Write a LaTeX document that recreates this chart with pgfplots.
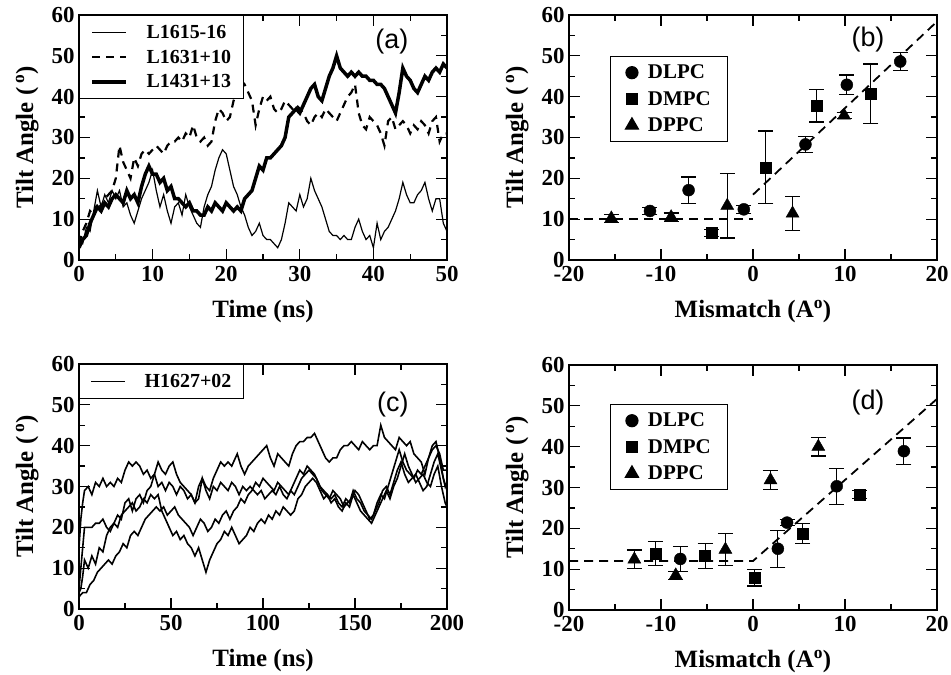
\documentclass[border=0pt]{standalone}
\usepackage{fontspec}
\setmainfont{Liberation Serif}
\newfontfamily\sansf{Liberation Sans}
\usepackage{pgfplots}
\pgfplotsset{compat=1.18}
\pgfplotsset{
 panel/.style={
  scale only axis, width=368bp, height=245bp,
  axis line style={line width=1.5bp},
  tick style={black, line width=1.3bp},
  major tick length=11bp, minor tick length=6bp,
  tick align=inside,
  ticklabel style={font=\fontsize{23}{23}\selectfont\bfseries},
  xticklabel style={yshift=-3bp},
  yticklabel style={xshift=-1bp},
  /pgf/number format/assume math mode=true,
  label style={font=\fontsize{25}{25}\selectfont\bfseries},
  ymin=0, ymax=60, ytick={0,10,...,60}, minor y tick num=1,
  minor x tick num=1,
  ylabel={Tilt Angle (\,\textsuperscript{o})},
  ylabel style={at={(axis description cs:-0.141,0.5)}, anchor=center},
  xlabel style={at={(axis description cs:0.5,-0.212)}, anchor=center},
 },
 linelegend/.style={
  legend style={at={(0,1)}, anchor=north west, draw=black, line width=1.2bp,
   inner xsep=11bp, inner ysep=8bp,
   nodes={inner sep=1.5bp, font=\fontsize{20}{20}\selectfont\bfseries}, row sep=7bp, cells={anchor=west},
   /tikz/every odd column/.append style={column sep=17bp}},
  legend image code/.code={\draw[##1] (0bp,0bp) -- (34bp,0bp);},
 },
 marklegend/.style={
  legend style={at={(#1)}, anchor=north west, draw=black, line width=1.2bp,
   inner xsep=15bp, inner ysep=7bp,
   nodes={inner sep=1.5bp, font=\fontsize{21}{21}\selectfont\bfseries}, row sep=8bp, cells={anchor=west},
   /tikz/every odd column/.append style={column sep=8bp}},
 },
 errb/.style={error bars/.cd, y dir=both, y explicit,
   error bar style={line width=1.2bp, black},
   error mark=|,
   error mark options={black, line width=1.2bp, mark size=7.5bp}},
}
\begin{document}
\begin{tikzpicture}[x=1bp,y=1bp]
\path[use as bounding box] (0,0) rectangle (951,675);

% ---------------- (a)
\begin{axis}[panel, linelegend, at={(79bp,415bp)}, anchor=south west,
  xmin=0, xmax=50, xtick={0,10,...,50}, xlabel={Time (ns)}]
\addplot[black, line width=1.2bp] coordinates {
(0,5)(0.5,4)(1,8)(1.5,7)(2,12)(2.5,17)(3,13)(3.5,16)(4,14)(4.5,17)(5,15)(5.5,17)(6,13)(6.5,14)(7,11)(7.5,9)(8,12)(8.5,15)(9,17)(9.5,19)(10,22)(10.5,17)(11,13)(11.5,16)(12,12)(12.5,9)(13,13)(13.5,14)(14,11)(14.5,16)(15,13)(15.5,11)(16,9)(16.5,8)(17,13)(17.5,16)(18,18)(18.5,22)(19,25)(19.5,27)(20,26)(20.5,22)(21,18)(21.5,16)(22,13)(22.5,11)(23,8)(23.5,6)(24,7)(24.5,9)(25,6)(25.5,5)(26,5)(26.5,4)(27,3)(27.5,5)(28,9)(28.5,14)(29,13)(29.5,12)(30,16)(30.5,13)(31,15)(31.5,20)(32,17)(32.5,15)(33,13)(33.5,10)(34,7)(34.5,6)(35,6)(35.5,5)(36,6)(36.5,5)(37,5)(37.5,8)(38,10)(38.5,7)(39,5)(39.5,6)(40,3)(40.5,9)(41,5)(41.5,7)(42,8)(42.5,10)(43,12)(43.5,15)(44,19)(44.5,16)(45,14)(45.5,14)(46,16)(46.5,17)(47,19)(47.5,15)(48,12)(48.5,15)(49,15)(49.5,9)(50,7)};
\addlegendentry{L1615-16}
\addplot[black, line width=2.2bp, dash pattern=on 8bp off 6bp] coordinates {
(0,4)(0.5,7)(1,9)(1.5,12)(2,11)(2.5,14)(3,13)(3.5,15)(4,16)(4.5,17)(5,20)(5.5,28)(6,24)(6.5,22)(7,20)(7.5,25)(8,23)(8.5,26)(9,27)(9.5,26)(10,27)(10.5,28)(11,27)(11.5,26)(12,28)(12.5,29)(13,29)(13.5,30)(14,29)(14.5,31)(15,30)(15.5,33)(16,30)(16.5,29)(17,30)(17.5,28)(18,29)(18.5,34)(19,37)(19.5,36)(20,34)(20.5,35)(21,39)(21.5,41)(22,44)(22.5,43)(23,41)(23.5,39)(24,33)(24.5,37)(25,40)(25.5,39)(26,40)(26.5,37)(27,36)(27.5,37)(28,39)(28.5,38)(29,37)(29.5,38)(30,37)(30.5,36)(31,34)(31.5,33)(32,35)(32.5,36)(33,35)(33.5,37)(34,36)(34.5,35)(35,34)(35.5,36)(36,38)(36.5,40)(37,41)(37.5,43)(38,36)(38.5,33)(39,32)(39.5,35)(40,34)(40.5,33)(41,31)(41.5,28)(42,34)(42.5,35)(43,32)(43.5,33)(44,34)(44.5,33)(45,31)(45.5,33)(46,32)(46.5,34)(47,33)(47.5,31)(48,34)(48.5,35)(49,29)(49.5,31)(50,31)};
\addlegendentry{L1631+10}
\addplot[black, line width=3.5bp] coordinates {
(0,3)(0.5,5)(1,6)(1.5,9)(2,11)(2.5,13)(3,12)(3.5,14)(4,13)(4.5,15)(5,16)(5.5,15)(6,14)(6.5,17)(7,15)(7.5,16)(8,14)(8.5,18)(9,21)(9.5,23)(10,21)(10.5,21)(11,19)(11.5,20)(12,17)(12.5,18)(13,15)(13.5,15)(14,14)(14.5,13)(15,14)(15.5,12)(16,12)(16.5,11)(17,11)(17.5,13)(18,12)(18.5,14)(19,13)(19.5,12)(20,14)(20.5,13)(21,12)(21.5,13)(22,12)(22.5,15)(23,16)(23.5,17)(24,20)(24.5,23)(25,22)(25.5,25)(26,25)(26.5,26)(27,27)(27.5,28)(28,30)(28.5,35)(29,36)(29.5,37)(30,36)(30.5,38)(31,40)(31.5,42)(32,43)(32.5,40)(33,39)(33.5,42)(34,45)(34.5,47)(35,50)(35.5,47)(36,46)(36.5,45)(37,46)(37.5,45)(38,46)(38.5,45)(39,45)(39.5,44)(40,44)(40.5,43)(41,43)(41.5,42)(42,40)(42.5,38)(43,36)(43.5,41)(44,47)(44.5,45)(45,44)(45.5,42)(46,41)(46.5,43)(47,45)(47.5,44)(48,46)(48.5,47)(49,46)(49.5,48)(50,47)};
\addlegendentry{L1431+13}
\node[font=\sansf\fontsize{27}{27}\selectfont] at (rel axis cs:0.85,0.89) {(a)};
\end{axis}

% ---------------- (b)
\begin{axis}[panel, marklegend={0.111,0.833}, at={(569bp,415bp)}, anchor=south west,
  xmin=-20, xmax=20, xtick={-20,-10,...,20}, xlabel={Mismatch (A\textsuperscript{o})}]
\addplot[black, only marks, mark=*, mark size=6bp, errb] coordinates {
(16.0,48.6) +- (0,2.2) (10.2,42.9) +- (0,2.4) (5.7,28.3) +- (0,1.9) (-1.0,12.4) +- (0,1.0) (-7.0,17.1) +- (0,3.2) (-11.2,12.0) +- (0,0.8)};
\addlegendentry{DLPC}
\addplot[black, only marks, mark=square*, mark size=5.5bp, errb] coordinates {
(12.8,40.7) +- (0,7.3) (6.9,37.8) +- (0,4.0) (1.4,22.7) +- (0,8.9) (-4.5,6.6) +- (0,0.8)};
\addlegendentry{DMPC}
\addplot[black, only marks, mark=triangle*, mark size=7.5bp, errb] coordinates {
(9.9,35.4) +- (0,0.8) (4.3,11.4) +- (0,4.2) (-2.8,13.3) +- (0,7.9) (-8.9,10.5) +- (0,1.0) (-15.4,10.2) +- (0,1.0)};
\addlegendentry{DPPC}
\addplot[black, line width=1.8bp, dash pattern=on 9bp off 6bp, forget plot] coordinates {(-20,10) (0,10)};
\addplot[black, line width=1.8bp, dash pattern=on 9bp off 6bp, forget plot] coordinates {(0,16) (20,58.4)};
\node[font=\sansf\fontsize{27}{27}\selectfont] at (rel axis cs:0.8125,0.898) {(b)};
\end{axis}

% ---------------- (c)
\begin{axis}[panel, linelegend, at={(79bp,66bp)}, anchor=south west,
  xmin=0, xmax=200, xtick={0,50,...,200}, xlabel={Time (ns)}]
\addplot[black, line width=1.6bp] coordinates {
(0,15)(1,22)(2,26)(3,29)(5,30)(7,28)(9,31)(11,30)(13,32)(15,30)(17,31)(19,30)(21,32)(23,31)(25,34)(27,36)(29,35)(31,36)(33,35)(35,33)(37,34)(39,32)(41,33)(43,30)(45,31)(47,29)(49,31)(51,30)(53,28)(55,30)(57,29)(59,27)(61,28)(63,26)(65,27)(67,32)(69,29)(71,27)(73,30)(75,29)(77,31)(79,30)(81,29)(83,31)(85,30)(87,28)(89,30)(91,29)(93,30)(95,29)(97,28)(99,29)(101,27)(103,28)(105,29)(107,28)(109,30)(111,28)(113,27)(115,29)(117,28)(119,30)(121,32)(123,33)(125,34)(127,33)(129,32)(131,30)(133,29)(135,28)(137,27)(139,28)(141,26)(143,25)(145,27)(147,26)(149,29)(151,27)(153,26)(155,24)(157,23)(159,22)(161,24)(163,26)(165,29)(167,30)(169,28)(171,31)(173,34)(175,36)(177,33)(179,31)(181,32)(183,33)(185,31)(187,29)(189,30)(191,33)(193,36)(195,38)(197,34)(199,30)(200,31)};
\addlegendentry{H1627+02}
\addplot[black, line width=1.6bp, forget plot] coordinates {
(0,5)(1,10)(2,15)(3,20)(5,20)(7,20)(9,21)(11,21)(13,22)(15,20)(17,19)(19,21)(21,23)(23,22)(25,26)(27,27)(29,24)(31,27)(33,28)(35,26)(37,29)(39,30)(41,33)(43,36)(45,34)(47,33)(49,35)(51,36)(53,33)(55,31)(57,30)(59,29)(61,28)(63,26)(65,30)(67,32)(69,30)(71,29)(73,32)(75,34)(77,36)(79,35)(81,36)(83,35)(85,37)(86,38)(88,35)(90,33)(92,35)(94,36)(96,37)(98,38)(100,39)(102,40)(104,37)(106,35)(108,38)(110,37)(112,36)(114,35)(116,38)(118,40)(120,41)(122,41)(124,42)(126,42)(128,43)(130,41)(132,39)(134,37)(136,36)(138,37)(140,37)(142,39)(144,40)(146,40)(148,41)(150,40)(152,39)(154,41)(156,40)(158,39)(160,40)(162,40)(164,45)(166,42)(168,41)(170,40)(172,39)(174,42)(176,41)(178,40)(180,41)(182,38)(184,37)(186,36)(188,33)(190,37)(192,39)(194,40)(196,38)(198,34)(200,34)};
\addplot[black, line width=1.6bp, forget plot] coordinates {
(0,4)(1,5)(2,8)(3,12)(5,10)(7,13)(9,11)(11,15)(13,14)(15,18)(17,20)(19,21)(21,20)(23,23)(25,24)(27,25)(29,26)(31,24)(33,25)(35,27)(37,26)(39,28)(41,27)(43,28)(45,24)(47,22)(49,20)(51,18)(53,19)(55,17)(57,18)(59,16)(61,15)(63,13)(65,15)(67,12)(69,9)(71,12)(73,14)(75,16)(77,17)(79,19)(81,18)(83,20)(85,18)(87,16)(89,17)(91,18)(93,20)(95,19)(97,21)(99,22)(101,21)(103,23)(105,22)(107,24)(109,23)(111,25)(113,24)(115,23)(117,24)(119,27)(121,28)(123,30)(125,31)(127,32)(129,31)(131,29)(133,27)(135,28)(137,26)(139,27)(141,25)(143,24)(145,26)(147,25)(149,28)(151,26)(153,24)(155,23)(157,22)(159,21)(161,23)(163,25)(165,27)(167,29)(169,27)(171,30)(173,32)(175,35)(177,38)(179,35)(181,33)(183,31)(185,32)(187,33)(189,31)(191,30)(193,33)(195,35)(197,30)(199,26)(200,25)};
\addplot[black, line width=1.6bp, forget plot] coordinates {
(0,3)(2,4)(4,4)(6,6)(8,7)(10,9)(12,10)(14,11)(16,12)(18,11)(20,13)(22,14)(24,16)(26,15)(28,18)(30,19)(32,18)(34,20)(36,22)(38,23)(40,24)(42,25)(44,24)(46,25)(48,23)(50,24)(52,25)(54,23)(56,22)(58,21)(60,20)(62,18)(64,20)(66,22)(68,21)(70,19)(72,20)(74,22)(76,21)(78,23)(80,24)(82,22)(84,24)(86,25)(88,27)(90,26)(92,28)(94,29)(96,31)(98,30)(100,32)(102,31)(104,30)(106,29)(108,31)(110,30)(112,29)(114,28)(116,30)(118,32)(120,34)(122,33)(124,35)(126,34)(128,33)(130,31)(132,29)(134,28)(136,27)(138,29)(140,28)(142,27)(144,25)(146,26)(148,27)(150,29)(152,28)(154,26)(156,24)(158,22)(160,23)(162,26)(164,28)(166,27)(168,30)(170,33)(172,36)(174,39)(176,36)(178,34)(180,33)(182,32)(184,34)(186,33)(188,35)(190,37)(192,40)(194,41)(196,37)(198,32)(200,29)};
\node[font=\sansf\fontsize{27}{27}\selectfont] at (rel axis cs:0.853,0.833) {(c)};
\end{axis}

% ---------------- (d)
\begin{axis}[panel, marklegend={0.111,0.841}, at={(569bp,65bp)}, anchor=south west,
  xmin=-20, xmax=20, xtick={-20,-10,...,20}, xlabel={Mismatch (A\textsuperscript{o})}]
\addplot[black, only marks, mark=*, mark size=6bp, errb] coordinates {
(16.4,38.9) +- (0,3.2) (9.1,30.3) +- (0,4.4) (3.7,21.4) +- (0,0.8) (2.7,15.0) +- (0,4.5) (-7.9,12.5) +- (0,3.1)};
\addlegendentry{DLPC}
\addplot[black, only marks, mark=square*, mark size=5.5bp, errb] coordinates {
(11.6,28.3) +- (0,1.0) (5.4,18.7) +- (0,2.4) (0.2,7.9) +- (0,2.0) (-5.2,13.2) +- (0,3.1) (-10.6,13.8) +- (0,3.0)};
\addlegendentry{DMPC}
\addplot[black, only marks, mark=triangle*, mark size=7.5bp, errb] coordinates {
(7.1,40.0) +- (0,2.3) (1.9,31.8) +- (0,2.3) (-3.0,14.8) +- (0,4.0) (-8.4,8.5) +- (0,1.0) (-12.9,12.4) +- (0,2.3)};
\addlegendentry{DPPC}
\addplot[black, line width=1.8bp, dash pattern=on 9bp off 6bp, forget plot] coordinates {(-20,12) (0,12) (20,51.7)};
\node[font=\sansf\fontsize{27}{27}\selectfont] at (rel axis cs:0.8125,0.846) {(d)};
\end{axis}
\end{tikzpicture}
\end{document}
